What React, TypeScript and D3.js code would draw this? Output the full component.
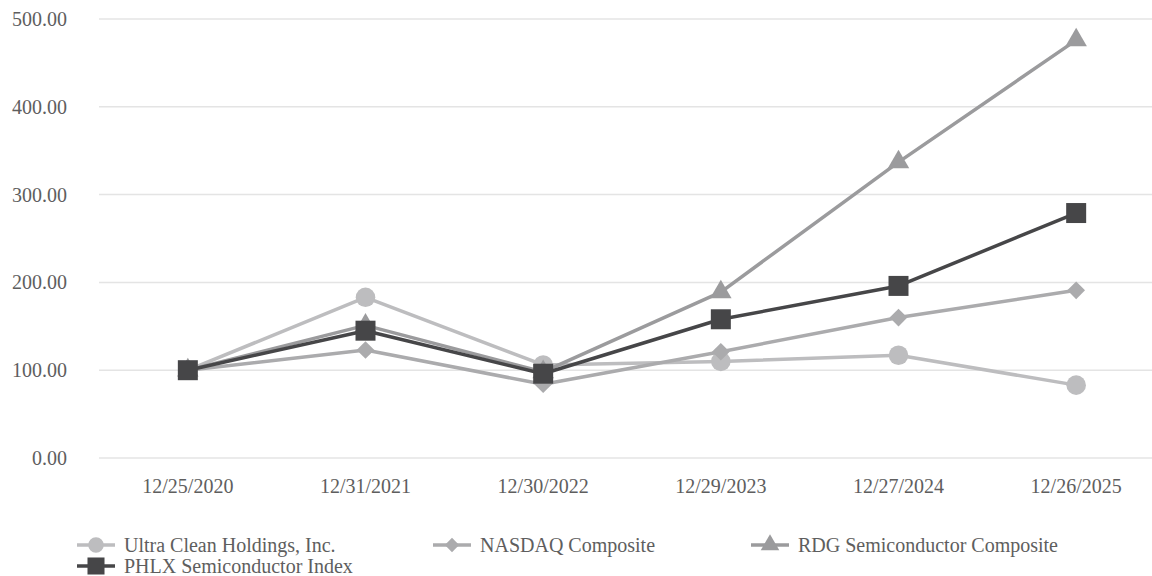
import React from 'react';
import * as d3 from 'd3';

const dates = ['12/25/2020', '12/31/2021', '12/30/2022', '12/29/2023', '12/27/2024', '12/26/2025'];
const ultraClean = [100, 183, 106, 110, 117, 83];
const nasdaq = [100, 123, 84, 121, 160, 191];
const rdg = [100, 151, 98, 189, 337, 476];
const phlx = [100, 145, 96, 158, 196, 279];
const yTicks = [0, 100, 200, 300, 400, 500];

const W = 1152;
const H = 576;
const FONT = 'Liberation Serif, Times New Roman, Times, DejaVu Serif, serif';
const TEXT = '#5E5E5E';

const series = [
  { name: 'Ultra Clean Holdings, Inc.', values: ultraClean, color: '#BDBDBF', marker: 'circle' },
  { name: 'NASDAQ Composite', values: nasdaq, color: '#ABABAD', marker: 'diamond' },
  { name: 'RDG Semiconductor Composite', values: rdg, color: '#9B9B9D', marker: 'triangle' },
  { name: 'PHLX Semiconductor Index', values: phlx, color: '#464648', marker: 'square' },
];

const symbols: Record<string, d3.SymbolType> = {
  circle: d3.symbolCircle,
  diamond: d3.symbolDiamond2,
  triangle: d3.symbolTriangle,
  square: d3.symbolSquare,
};
const symbolSize: Record<string, number> = { circle: 300, diamond: 200, triangle: 200, square: 400 };
const legendSize: Record<string, number> = { circle: 190, diamond: 130, triangle: 150, square: 290 };

// legend symbol centres
const legendPos = [
  { x: 96, y: 545 },
  { x: 452, y: 545 },
  { x: 770, y: 545 },
  { x: 96, y: 566 },
];

const txt = { fontFamily: FONT, fill: TEXT, fontSize: 20 };

export default function App() {
  const x = d3.scalePoint<string>().domain(dates).range([99, 1165]).padding(0.5);
  const y = d3.scaleLinear().domain([0, 500]).range([458, 19]);
  const line = d3.line<number>().x((_, i) => x(dates[i]) as number).y(d => y(d));

  return (
    <svg width={W} height={H} style={{ position: 'absolute', left: 0, top: 0, background: '#fff' }}>
      <g>
        {yTicks.map(t => (
          <g key={t}>
            <line x1={99} x2={W} y1={y(t)} y2={y(t)} stroke="#E4E4E4" strokeWidth={1.5} />
            <text x={67} y={y(t)} dy="0.35em" textAnchor="end" style={txt}>{d3.format('.2f')(t)}</text>
          </g>
        ))}
        {dates.map(d => (
          <text key={d} x={x(d)} y={486} dy="0.35em" textAnchor="middle" style={txt}>{d}</text>
        ))}
      </g>
      {series.map(s => (
        <g key={s.name}>
          <path d={line(s.values) || ''} fill="none" stroke={s.color} strokeWidth={3.5} strokeLinejoin="round" />
          {s.values.map((v, i) => (
            <path key={i}
              d={d3.symbol(symbols[s.marker], symbolSize[s.marker])() || ''}
              transform={`translate(${x(dates[i])},${y(v)})`}
              fill={s.color} />
          ))}
        </g>
      ))}
      {series.map((s, i) => (
        <g key={s.name} transform={`translate(${legendPos[i].x},${legendPos[i].y})`}>
          <line x1={-19} x2={19} y1={0} y2={0} stroke={s.color} strokeWidth={3.5} />
          <path d={d3.symbol(symbols[s.marker], legendSize[s.marker])() || ''} fill={s.color} />
          <text x={28} y={0} dy="0.35em" style={txt}>{s.name}</text>
        </g>
      ))}
    </svg>
  );
}
